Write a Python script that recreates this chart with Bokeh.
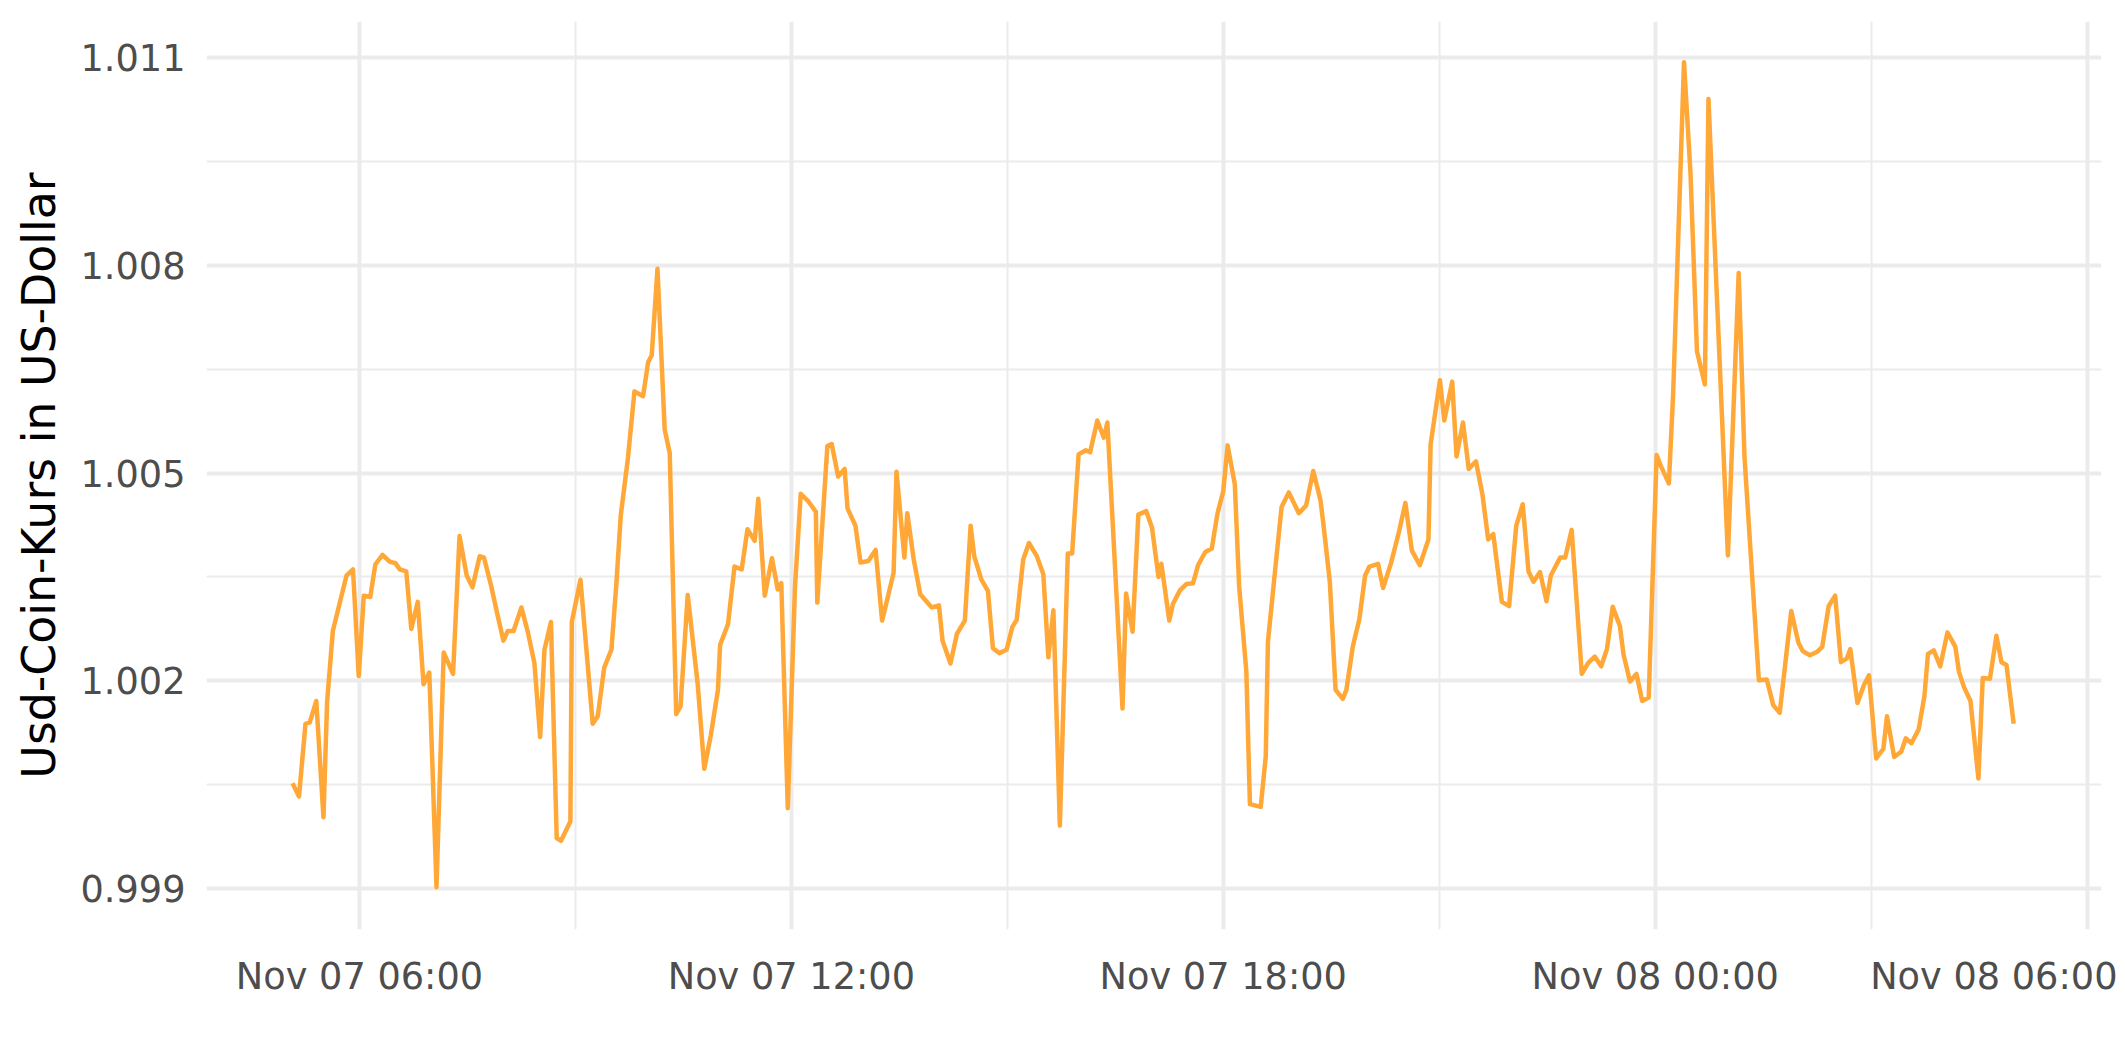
from datetime import datetime, timedelta
from bokeh.plotting import figure
from bokeh.models import FixedTicker, NumeralTickFormatter, DatetimeTickFormatter, Range1d, ColumnDataSource
from bokeh.embed import file_html
from bokeh.resources import INLINE

# time of each observation, in hours after 2022-11-07 00:00 (UTC)
hours_since_nov07 = [
    5.07, 5.16, 5.25, 5.31, 5.40, 5.50, 5.55, 5.63, 5.82, 5.91,
    5.99, 6.06, 6.15, 6.22, 6.32, 6.42, 6.50, 6.56, 6.65, 6.72,
    6.81, 6.89, 6.97, 7.07, 7.17, 7.30, 7.39, 7.49, 7.57, 7.67,
    7.73, 7.83, 7.92, 8.00, 8.06, 8.14, 8.25, 8.34, 8.43, 8.51,
    8.57, 8.66, 8.74, 8.80, 8.93, 8.95, 9.07, 9.24, 9.31, 9.40,
    9.50, 9.57, 9.63, 9.73, 9.82, 9.94, 10.01, 10.06, 10.14, 10.24,
    10.31, 10.40, 10.46, 10.56, 10.70, 10.79, 10.88, 10.98, 11.01, 11.12,
    11.21, 11.31, 11.39, 11.49, 11.54, 11.63, 11.73, 11.81, 11.86, 11.95,
    12.05, 12.13, 12.23, 12.34, 12.36, 12.50, 12.56, 12.65, 12.74, 12.78,
    12.89, 12.96, 13.07, 13.17, 13.26, 13.31, 13.42, 13.46, 13.57, 13.61,
    13.70, 13.79, 13.95, 14.05, 14.10, 14.21, 14.30, 14.41, 14.49, 14.54,
    14.64, 14.73, 14.80, 14.89, 14.99, 15.07, 15.13, 15.22, 15.30, 15.41,
    15.50, 15.57, 15.64, 15.73, 15.84, 15.90, 15.99, 16.09, 16.15, 16.25,
    16.34, 16.39, 16.60, 16.65, 16.74, 16.82, 16.93, 17.01, 17.10, 17.14,
    17.25, 17.30, 17.40, 17.49, 17.58, 17.65, 17.75, 17.84, 17.92, 18.00,
    18.06, 18.16, 18.22, 18.32, 18.37, 18.52, 18.59, 18.62, 18.73, 18.81,
    18.91, 19.05, 19.15, 19.25, 19.35, 19.39, 19.48, 19.56, 19.66, 19.71,
    19.80, 19.89, 19.97, 20.03, 20.15, 20.22, 20.33, 20.44, 20.53, 20.62,
    20.73, 20.85, 20.88, 21.01, 21.07, 21.18, 21.24, 21.33, 21.41, 21.51,
    21.60, 21.68, 21.75, 21.87, 21.97, 22.07, 22.16, 22.24, 22.31, 22.40,
    22.49, 22.55, 22.68, 22.75, 22.84, 22.98, 23.07, 23.16, 23.25, 23.33,
    23.41, 23.51, 23.56, 23.65, 23.74, 23.82, 23.91, 24.02, 24.08, 24.19,
    24.25, 24.40, 24.49, 24.58, 24.69, 24.74, 25.01, 25.16, 25.24, 25.44,
    25.55, 25.64, 25.73, 25.89, 25.99, 26.05, 26.15, 26.25, 26.32, 26.41,
    26.50, 26.58, 26.66, 26.71, 26.81, 26.90, 26.97, 27.07, 27.17, 27.22,
    27.32, 27.42, 27.48, 27.56, 27.66, 27.74, 27.79, 27.87, 27.96, 28.06,
    28.17, 28.22, 28.29, 28.38, 28.49, 28.55, 28.65, 28.74, 28.81, 28.88,
    28.98,
]

# USD Coin price in US dollars
price_usd = [
    1.00052, 1.00033, 1.00138, 1.00140, 1.00171, 1.00003, 1.00169, 1.00272, 1.00352, 1.00361,
    1.00207, 1.00323, 1.00321, 1.00368, 1.00382, 1.00372, 1.00370, 1.00361, 1.00358, 1.00275,
    1.00314, 1.00195, 1.00212, 0.99902, 1.00241, 1.00210, 1.00409, 1.00352, 1.00335, 1.00380,
    1.00378, 1.00337, 1.00294, 1.00258, 1.00272, 1.00272, 1.00306, 1.00270, 1.00226, 1.00119,
    1.00245, 1.00285, 0.99973, 0.99969, 0.99997, 1.00285, 1.00346, 1.00138, 1.00149, 1.00219,
    1.00245, 1.00342, 1.00439, 1.00522, 1.00618, 1.00611, 1.00660, 1.00670, 1.00795, 1.00563,
    1.00529, 1.00152, 1.00163, 1.00324, 1.00194, 1.00073, 1.00121, 1.00187, 1.00252, 1.00282,
    1.00365, 1.00361, 1.00419, 1.00402, 1.00463, 1.00323, 1.00377, 1.00332, 1.00341, 1.00016,
    1.00335, 1.00470, 1.00460, 1.00444, 1.00313, 1.00539, 1.00542, 1.00495, 1.00506, 1.00449,
    1.00424, 1.00371, 1.00373, 1.00389, 1.00287, 1.00308, 1.00356, 1.00502, 1.00378, 1.00442,
    1.00375, 1.00325, 1.00306, 1.00309, 1.00258, 1.00225, 1.00268, 1.00287, 1.00424, 1.00380,
    1.00346, 1.00330, 1.00247, 1.00240, 1.00245, 1.00278, 1.00288, 1.00375, 1.00399, 1.00380,
    1.00354, 1.00234, 1.00302, 0.99991, 1.00384, 1.00384, 1.00527, 1.00533, 1.00530, 1.00576,
    1.00551, 1.00573, 1.00160, 1.00326, 1.00271, 1.00440, 1.00445, 1.00421, 1.00350, 1.00369,
    1.00287, 1.00311, 1.00331, 1.00340, 1.00341, 1.00367, 1.00386, 1.00391, 1.00442, 1.00474,
    1.00540, 1.00484, 1.00337, 1.00214, 1.00022, 1.00018, 1.00091, 1.00256, 1.00370, 1.00451,
    1.00472, 1.00442, 1.00453, 1.00503, 1.00461, 1.00427, 1.00343, 1.00187, 1.00174, 1.00187,
    1.00250, 1.00289, 1.00352, 1.00365, 1.00369, 1.00334, 1.00370, 1.00415, 1.00457, 1.00388,
    1.00367, 1.00404, 1.00541, 1.00634, 1.00576, 1.00632, 1.00524, 1.00573, 1.00506, 1.00517,
    1.00469, 1.00404, 1.00412, 1.00314, 1.00308, 1.00424, 1.00455, 1.00358, 1.00343, 1.00357,
    1.00315, 1.00352, 1.00378, 1.00378, 1.00418, 1.00210, 1.00226, 1.00235, 1.00221, 1.00246,
    1.00307, 1.00279, 1.00238, 1.00199, 1.00210, 1.00171, 1.00176, 1.00526, 1.00510, 1.00485,
    1.00616, 1.01093, 1.00934, 1.00676, 1.00628, 1.01040, 1.00381, 1.00789, 1.00524, 1.00201,
    1.00202, 1.00165, 1.00154, 1.00301, 1.00255, 1.00243, 1.00237, 1.00242, 1.00249, 1.00308,
    1.00323, 1.00227, 1.00232, 1.00246, 1.00168, 1.00194, 1.00208, 1.00088, 1.00102, 1.00149,
    1.00090, 1.00098, 1.00117, 1.00110, 1.00130, 1.00178, 1.00239, 1.00244, 1.00221, 1.00270,
    1.00249, 1.00213, 1.00191, 1.00171, 1.00059, 1.00204, 1.00203, 1.00265, 1.00227, 1.00223,
    1.00138,
]

y_major_ticks = [0.999, 1.002, 1.005, 1.008, 1.011]
y_minor_ticks = [0.9975, 1.0005, 1.0035, 1.0065, 1.0095]
x_major_tick_hours = [6, 12, 18, 24, 30]
x_minor_tick_hours = [3, 9, 15, 21, 27, 33]
y_title = "Usd-Coin-Kurs in US-Dollar"

base = datetime(2022, 11, 7)
epoch = datetime(1970, 1, 1)


def to_ms(h):
    return ((base + timedelta(hours=h)) - epoch).total_seconds() * 1000.0


times = [base + timedelta(hours=h) for h in hours_since_nov07]
src = ColumnDataSource(data=dict(time=times, price=price_usd))

FONT = "DejaVu Sans"
GRID = "#EBEBEB"
TICK_COLOR = "#4D4D4D"
TICK_SIZE = "36.7px"
W, H = 2117, 1046
FRAME_W, FRAME_H = 1895, 908
LEFT, TOP = 206, 21

p = figure(
    width=W, height=H,
    x_axis_type="datetime",
    x_range=Range1d(start=base + timedelta(hours=3.875), end=base + timedelta(hours=30.2)),
    y_range=Range1d(start=0.99841, end=1.01152),
    output_backend="svg", toolbar_location=None,
    min_border_left=LEFT, min_border_right=W - LEFT - FRAME_W,
    min_border_top=TOP, min_border_bottom=H - TOP - FRAME_H,
)
p.outline_line_color = None
p.background_fill_color = "white"
p.border_fill_color = "white"

p.line("time", "price", source=src, line_color="#FFA838", line_width=4.5, line_join="round")

# x axis
fmt = "%b %d %H:%M"
p.xaxis.ticker = FixedTicker(ticks=[to_ms(h) for h in x_major_tick_hours],
                             minor_ticks=[to_ms(h) for h in x_minor_tick_hours])
p.xaxis.formatter = DatetimeTickFormatter(
    microseconds=fmt, milliseconds=fmt, seconds=fmt, minsec=fmt, minutes=fmt,
    hourmin=fmt, hours=fmt, days=fmt, months=fmt, years=fmt)

# y axis
p.yaxis.ticker = FixedTicker(ticks=y_major_ticks, minor_ticks=y_minor_ticks)
p.yaxis.formatter = NumeralTickFormatter(format="0.000")
p.yaxis.axis_label = y_title

for ax in (p.xaxis[0], p.yaxis[0]):
    ax.axis_line_color = None
    ax.major_tick_line_color = None
    ax.minor_tick_line_color = None
    ax.major_label_text_font = FONT
    ax.major_label_text_font_size = TICK_SIZE
    ax.major_label_text_color = TICK_COLOR
    ax.axis_label_text_font = FONT
    ax.axis_label_text_font_size = "45.8px"
    ax.axis_label_text_font_style = "normal"
    ax.axis_label_text_color = "#000000"

p.xaxis.major_label_standoff = 19
p.yaxis.major_label_standoff = 15
p.yaxis.axis_label_standoff = 11

for g in (p.xgrid[0], p.ygrid[0]):
    g.grid_line_color = GRID
    g.grid_line_width = 4
    g.minor_grid_line_color = GRID
    g.minor_grid_line_width = 2

open("out.html", "w").write(file_html(p, INLINE))
